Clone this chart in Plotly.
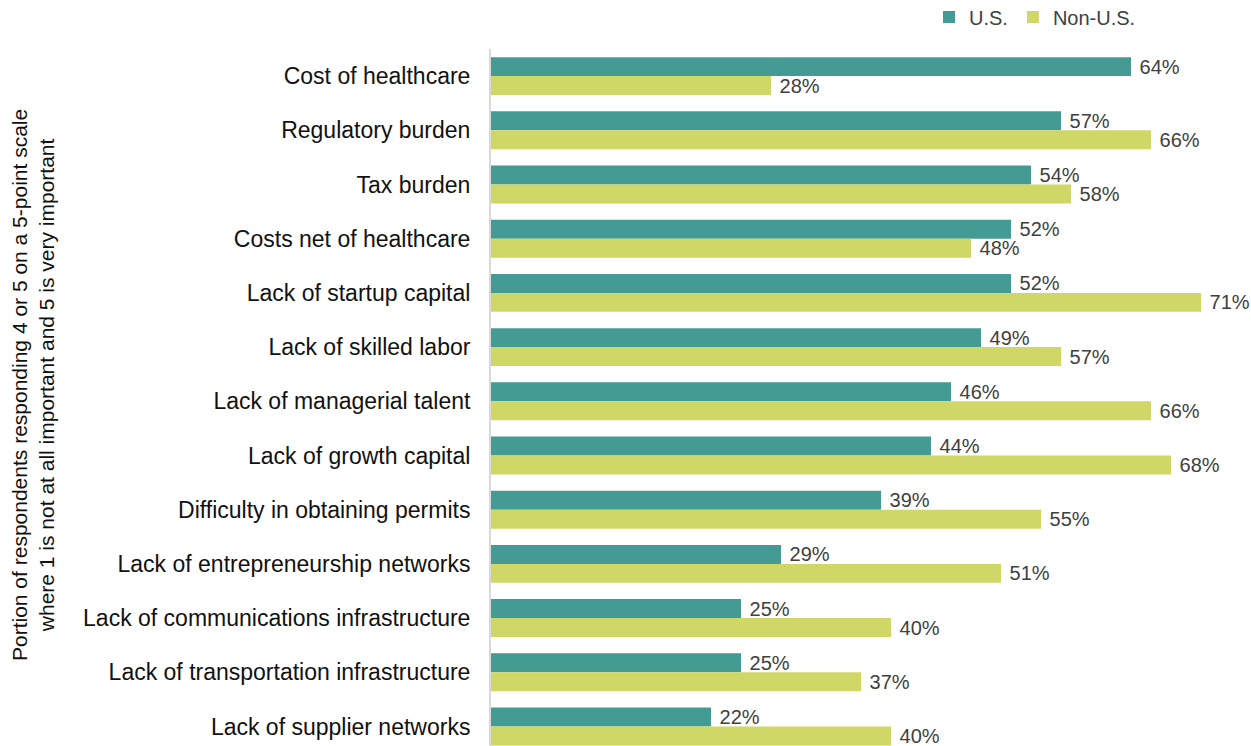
import plotly.graph_objects as go

categories = [
    "Cost of healthcare",
    "Regulatory burden",
    "Tax burden",
    "Costs net of healthcare",
    "Lack of startup capital",
    "Lack of skilled labor",
    "Lack of managerial talent",
    "Lack of growth capital",
    "Difficulty in obtaining permits",
    "Lack of entrepreneurship networks",
    "Lack of communications infrastructure",
    "Lack of transportation infrastructure",
    "Lack of supplier networks",
]
us_values = [64, 57, 54, 52, 52, 49, 46, 44, 39, 29, 25, 25, 22]
non_us_values = [28, 66, 58, 48, 71, 57, 66, 68, 55, 51, 40, 37, 40]
series_names = ["U.S.", "Non-U.S."]
axis_title = "Portion of respondents responding 4 or 5 on a 5-point scale<br>where 1 is not at all important and 5 is very important"

positions = list(range(len(categories)))

TEAL = "#449b93"
LIME = "#cfd767"
LABEL = "#404040"
FONT = "Liberation Sans"

W, H = 1251, 746
L, R, T, B = 491, 0, 49, 0
PW = W - L - R
PH = H - T - B

fig = go.Figure()
for name, vals, col in [(series_names[0], us_values, TEAL), (series_names[1], non_us_values, LIME)]:
    fig.add_trace(go.Bar(
        y=positions, x=vals, name=name, orientation="h",
        marker=dict(color=col, line=dict(width=0)),
        texttemplate="\u00a0%{x}%", textposition="outside",
        textfont=dict(family=FONT, size=20, color=LABEL),
        constraintext="none",
        cliponaxis=False,
    ))

fig.update_layout(
    template="none",
    width=W, height=H,
    margin=dict(l=L, r=R, t=T, b=B, pad=0, autoexpand=False),
    paper_bgcolor="white", plot_bgcolor="white",
    barmode="group", bargap=0.3, bargroupgap=0,
    showlegend=True,
    legend=dict(orientation="h", x=(1141 - L) / PW, xanchor="right",
                y=1 + (T - 17) / PH, yref="paper", yanchor="middle",
                font=dict(family=FONT, size=20, color=LABEL),
                itemwidth=30, traceorder="normal", bgcolor="rgba(0,0,0,0)"),
    font=dict(family=FONT, color="#222222"),
)
fig.update_xaxes(range=[0, 76], showgrid=False, showticklabels=False, zeroline=False,
                 showline=False, ticks="")
fig.update_yaxes(range=[12.36, -0.5], tickmode="array", tickvals=positions, ticktext=categories,
                 showgrid=False, zeroline=False, showline=True, linecolor="#d9d9d9", linewidth=2,
                 ticks="", ticklabelstandoff=14,
                 tickfont=dict(family=FONT, size=23, color="#111111"))

fig.add_annotation(text=axis_title, xref="paper", yref="paper", x=(33 - L) / PW, xanchor="center",
                   y=(H - 385 - B) / PH, yanchor="middle", textangle=-90, showarrow=False,
                   font=dict(family=FONT, size=21, color="#111111"), align="center")

fig.write_html("out.html",
               config={"displayModeBar": False},
               post_script="document.body.style.margin='0';document.body.style.overflow='hidden';")
